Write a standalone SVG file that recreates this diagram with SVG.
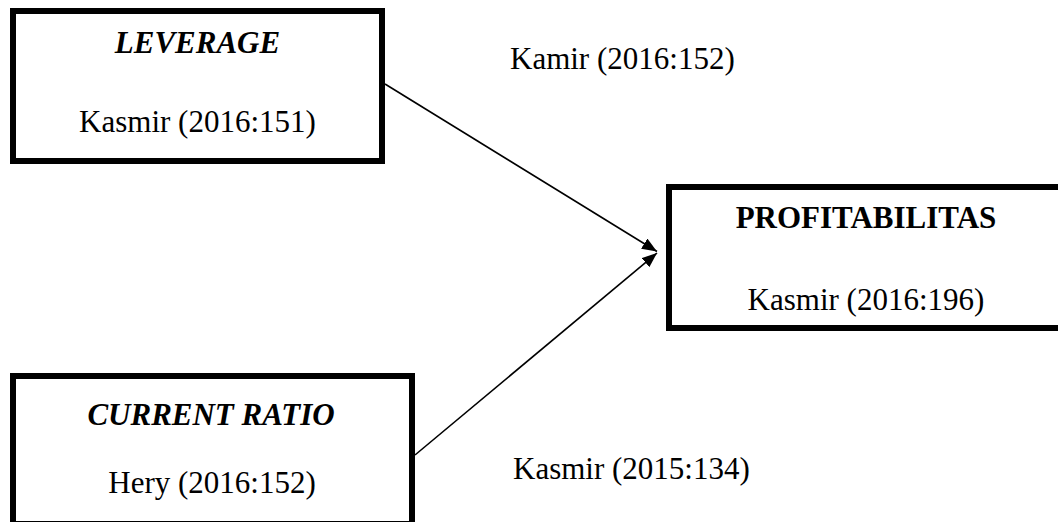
<svg xmlns="http://www.w3.org/2000/svg" width="1058" height="522" viewBox="0 0 1058 522">
<style>
.box{fill:#fff;stroke:#000;stroke-width:6}
.t{font-family:"Liberation Serif","Times New Roman",serif;font-size:31px;fill:#000;text-anchor:middle}
.bi{font-weight:bold;font-style:italic}
.b{font-weight:bold}
.lbl{font-family:"Liberation Serif","Times New Roman",serif;font-size:31px;fill:#000}
.conn{stroke:#000;stroke-width:1.6;fill:none}
</style>
<defs>
<marker id="arr" markerUnits="userSpaceOnUse" markerWidth="15" markerHeight="12" refX="15" refY="6" orient="auto">
<path d="M0,0 L15,6 L0,12 z" fill="#000"/>
</marker>
</defs>
<g id="connectors">
<line class="conn" x1="385" y1="84" x2="657" y2="251.5" marker-end="url(#arr)"/>
<line class="conn" x1="415" y1="455" x2="657" y2="253" marker-end="url(#arr)"/>
</g>
<g id="leverage">
<rect class="box" x="13" y="11" width="369" height="150"/>
<text class="t bi" x="197.5" y="53">LEVERAGE</text>
<text class="t" x="197.5" y="132">Kasmir (2016:151)</text>
</g>
<g id="current-ratio">
<rect class="box" x="13" y="376" width="399" height="148"/>
<text class="t bi" x="211" y="425">CURRENT RATIO</text>
<text class="t" x="212" y="493">Hery (2016:152)</text>
</g>
<g id="profitabilitas">
<rect class="box" x="669" y="187" width="400" height="141"/>
<text class="t b" x="866" y="228">PROFITABILITAS</text>
<text class="t" x="866" y="310">Kasmir (2016:196)</text>
</g>
<g id="labels">
<text class="lbl" x="510" y="69">Kamir (2016:152)</text>
<text class="lbl" x="513" y="479">Kasmir (2015:134)</text>
</g>
</svg>
